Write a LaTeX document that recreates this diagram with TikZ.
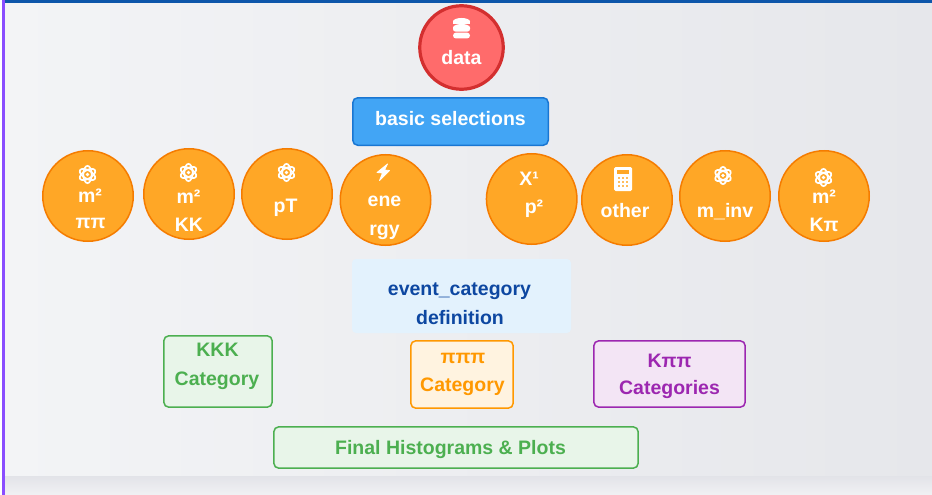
\documentclass[tikz,border=0pt]{standalone}
\usepackage{fontspec}
\setmainfont{Liberation Sans}
\usepackage{tikz}
\usetikzlibrary{positioning,calc}
\definecolor{bgleft}{RGB}{243, 244, 246}
\definecolor{bgright}{RGB}{230, 231, 235}
\definecolor{topbar}{RGB}{13, 86, 170}
\definecolor{sidebar}{RGB}{138, 77, 255}
\definecolor{shadowtop}{RGB}{226, 227, 232}
\definecolor{shadowlow}{RGB}{241, 241, 244}
\definecolor{datafill}{RGB}{255, 107, 107}
\definecolor{dataline}{RGB}{211, 47, 47}
\definecolor{selfill}{RGB}{66, 165, 245}
\definecolor{selline}{RGB}{25, 118, 210}
\definecolor{varfill}{RGB}{255, 167, 38}
\definecolor{varline}{RGB}{245, 124, 0}
\definecolor{evfill}{RGB}{227, 242, 253}
\definecolor{evtext}{RGB}{13, 71, 161}
\definecolor{kkkfill}{RGB}{232, 245, 233}
\definecolor{kkkline}{RGB}{76, 175, 80}
\definecolor{pipifill}{RGB}{255, 243, 224}
\definecolor{pipiline}{RGB}{255, 152, 0}
\definecolor{kpifill}{RGB}{243, 229, 245}
\definecolor{kpiline}{RGB}{156, 39, 176}
\tikzset{
  varnode/.style={draw=varline, fill=varfill, circle, line width=1.5pt, minimum size=90.5pt, inner sep=0pt},
  boxnode/.style={rounded corners=5pt, line width=1.5pt, inner sep=0pt},
  lbl/.style={inner sep=0pt, text height=14pt, text depth=0pt, font=\fontsize{19.5}{20}\selectfont\bfseries},
  atomicon/.pic={
    \draw[white, line width=1.7pt] (0,0) ellipse (4.2pt and 8.6pt);
    \draw[white, line width=1.7pt, rotate=60] (0,0) ellipse (4.2pt and 8.6pt);
    \draw[white, line width=1.7pt, rotate=120] (0,0) ellipse (4.2pt and 8.6pt);
    \fill[white] (0,0) circle (1.8pt);
  }
}
\begin{document}
\begin{tikzpicture}[x=1pt, y=-1pt]
  \useasboundingbox (0,0) rectangle (932,495);
  % Fond
  \fill[white] (0,0) rectangle (932,495);
  \shade[left color=bgleft, right color=bgright] (2,0) rectangle (932,476);
  \shade[top color=shadowtop, bottom color=shadowlow] (2,476) rectangle (932,495);
  \fill[sidebar] (2,0) rectangle (5,495);
  \fill[topbar] (5,0) rectangle (932,3.3);

  % Source et selection
  \node[draw=dataline, fill=datafill, circle, line width=3.2pt, minimum size=83.5pt, inner sep=0pt] (data) at (461.5,47.5) {};
  \node[lbl, text=white] (datatext) at (461.5,57.5) {data};
  \node[boxnode, draw=selline, fill=selfill, minimum width=195.5pt, minimum height=47.5pt] (sel) at (450.5,121.5) {};
  \node[lbl, text=white] (seltext) at (450.5,118) {basic selections};

  % Variables
  \node[varnode] (mpp) at (88,196) {};
  \node[varnode] (mkk) at (189,194) {};
  \node[varnode] (pt) at (287,194) {};
  \node[varnode] (ene) at (385.5,200) {};
  \node[varnode] (xp) at (531.7,199) {};
  \node[varnode] (oth) at (627,200) {};
  \node[varnode] (inv) at (725,196) {};
  \node[varnode] (mkp) at (824,196) {};

  % Icones
  \pic at (87.5,174.5) {atomicon};
  \pic at (188.5,172.5) {atomicon};
  \pic at (286.5,172.5) {atomicon};
  \pic at (723,175.5) {atomicon};
  \pic at (823.5,177.5) {atomicon};
  \filldraw[white, line width=0.8pt, line join=round] (387.5,164) -- (377,172.5) -- (382.5,173) -- (379.5,180.5) -- (389.5,170.5) -- (384.5,170) -- cycle;
  \fill[white] (461.5,21.5) ellipse (8.5pt and 3.5pt);
  \fill[white] (453,21.5) rectangle (470,24);
  \fill[white, rounded corners=2.5pt] (453,25.2) -- (470,25.2) -- (470,31.6) -- (453,31.6) -- cycle;
  \fill[white, rounded corners=3pt] (453,32.6) -- (470,32.6) -- (470,38.5) -- (453,38.5) -- cycle;
  \fill[white, rounded corners=1.5pt] (614,167) rectangle (632,191);
  \fill[varfill] (617,170) rectangle (629,174);
  \foreach \ypos in {178,182,186} \foreach \xpos in {619,623,627}
    \fill[varfill!75!white] (\xpos-1.4,\ypos-1.4) rectangle (\xpos+1.4,\ypos+1.4);

  % Texte des variables
  \node[lbl, text=white] (t1a) at (90,195) {m²};
  \node[lbl, text=white] (t1b) at (90.5,221) {ππ};
  \node[lbl, text=white] (t2a) at (188.5,196) {m²};
  \node[lbl, text=white] (t2b) at (189,224) {KK};
  \node[lbl, text=white] (t3) at (285.5,205) {pT};
  \node[lbl, text=white] (t4a) at (384.5,199) {ene};
  \node[lbl, text=white] (t4b) at (384.5,228) {rgy};
  \node[lbl, text=white] (t5a) at (529,178) {X¹};
  \node[lbl, text=white] (t5b) at (534,206) {p²};
  \node[lbl, text=white] (t6) at (625,210) {other};
  \node[lbl, text=white] (t7) at (725,210) {m\_inv};
  \node[lbl, text=white] (t8a) at (824,196) {m²};
  \node[lbl, text=white] (t8b) at (824,224) {Kπ};

  % Categories
  \node[fill=evfill, rounded corners=4pt, minimum width=219pt, minimum height=74pt] (ev) at (461.5,296) {};
  \node[lbl, text=evtext] (evt1) at (459.5,288) {event\_category};
  \node[lbl, text=evtext] (evt2) at (460,317) {definition};

  \node[boxnode, draw=kkkline, fill=kkkfill, minimum width=108.4pt, minimum height=71.4pt] (kkk) at (218,371.5) {};
  \node[lbl, text=kkkline] (kkk1) at (217.5,349.5) {KKK};
  \node[lbl, text=kkkline] (kkk2) at (217,378) {Category};

  \node[boxnode, draw=pipiline, fill=pipifill, minimum width=102.4pt, minimum height=67.4pt] (pipi) at (462,374.5) {};
  \node[lbl, text=pipiline] (pipi1) at (463,356) {πππ};
  \node[lbl, text=pipiline] (pipi2) at (462.5,384) {Category};

  \node[boxnode, draw=kpiline, fill=kpifill, minimum width=151.4pt, minimum height=66.4pt] (kpi) at (669.5,374) {};
  \node[lbl, text=kpiline] (kpi1) at (669.5,360) {Kππ};
  \node[lbl, text=kpiline] (kpi2) at (669.5,387) {Categories};

  \node[boxnode, draw=kkkline, fill=kkkfill, minimum width=364.4pt, minimum height=41.4pt] (plots) at (456,447.5) {};
  \node[lbl, text=kkkline] (plotst) at (450.5,447) {Final Histograms \& Plots};
\end{tikzpicture}
\end{document}
